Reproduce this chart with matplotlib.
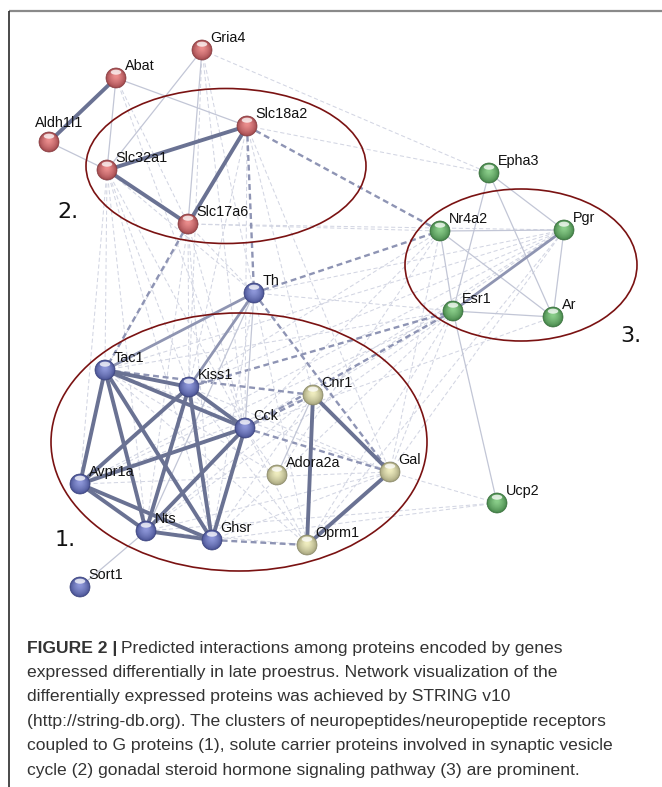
import matplotlib
matplotlib.use("Agg")
import matplotlib.pyplot as plt
from matplotlib.patches import Circle, Ellipse
from matplotlib.colors import to_rgb

# ---- network data -------------------------------------------------------
genes = ["Gria4", "Abat", "Aldh1l1", "Slc18a2", "Slc32a1", "Slc17a6",
         "Epha3", "Nr4a2", "Pgr", "Esr1", "Ar", "Ucp2",
         "Th", "Tac1", "Kiss1", "Cck", "Avpr1a", "Nts", "Ghsr", "Sort1",
         "Cnr1", "Adora2a", "Gal", "Oprm1"]
node_x = [202, 116, 49, 247, 107, 188,
          489, 440, 564, 453, 553, 497,
          254, 105, 189, 245, 80, 146, 212, 80,
          313, 277, 390, 307]
node_y = [50, 78, 142, 126, 170, 224,
          173, 231, 230, 311, 317, 503,
          293, 370, 387, 428, 484, 531, 540, 587,
          395, 475, 472, 545]
node_group = ["red"] * 6 + ["green"] * 6 + ["blue"] * 8 + ["yellow"] * 4

strong_edges = [("Abat", "Aldh1l1"), ("Slc32a1", "Slc18a2"), ("Slc32a1", "Slc17a6"),
                ("Slc18a2", "Slc17a6"),
                ("Tac1", "Kiss1"), ("Tac1", "Cck"), ("Tac1", "Avpr1a"), ("Tac1", "Nts"),
                ("Tac1", "Ghsr"), ("Kiss1", "Cck"), ("Kiss1", "Avpr1a"), ("Kiss1", "Nts"),
                ("Kiss1", "Ghsr"), ("Cck", "Avpr1a"), ("Cck", "Nts"), ("Cck", "Ghsr"),
                ("Avpr1a", "Nts"), ("Avpr1a", "Ghsr"), ("Nts", "Ghsr"),
                ("Cnr1", "Oprm1"), ("Cnr1", "Gal"), ("Gal", "Oprm1")]
medium_edges = [("Esr1", "Pgr"), ("Th", "Tac1"), ("Th", "Kiss1")]
weak_edges = [("Abat", "Slc32a1"), ("Gria4", "Slc17a6"), ("Gria4", "Slc32a1"),
              ("Aldh1l1", "Slc32a1"), ("Abat", "Slc18a2"), ("Th", "Cck"), ("Th", "Nts"),
              ("Nr4a2", "Pgr"), ("Nr4a2", "Esr1"), ("Nr4a2", "Ar"), ("Esr1", "Ar"),
              ("Pgr", "Ar"), ("Epha3", "Esr1"), ("Epha3", "Ar"), ("Epha3", "Pgr"),
              ("Ucp2", "Esr1"), ("Sort1", "Nts"), ("Cnr1", "Adora2a")]
dash_dark = [("Slc18a2", "Nr4a2"), ("Slc18a2", "Th"), ("Th", "Nr4a2"), ("Slc17a6", "Tac1"),
             ("Tac1", "Cnr1"), ("Cck", "Cnr1"), ("Th", "Gal"), ("Kiss1", "Esr1"),
             ("Cck", "Gal"), ("Ghsr", "Oprm1"), ("Cck", "Esr1")]
dash_light = [("Gria4", "Epha3"), ("Slc18a2", "Epha3"), ("Slc17a6", "Nr4a2"),
              ("Slc17a6", "Pgr"), ("Gria4", "Th"), ("Gria4", "Cck"), ("Gria4", "Kiss1"),
              ("Abat", "Slc17a6"), ("Abat", "Cck"),
              ("Slc32a1", "Tac1"), ("Slc32a1", "Kiss1"), ("Slc32a1", "Cck"),
              ("Slc32a1", "Nts"), ("Slc32a1", "Ghsr"), ("Slc32a1", "Th"),
              ("Slc32a1", "Avpr1a"), ("Slc17a6", "Kiss1"), ("Slc17a6", "Cck"),
              ("Slc17a6", "Nts"), ("Slc17a6", "Ghsr"), ("Slc17a6", "Th"),
              ("Slc18a2", "Cck"), ("Slc18a2", "Kiss1"), ("Slc18a2", "Gal"),
              ("Slc18a2", "Cnr1"), ("Slc18a2", "Tac1"),
              ("Tac1", "Esr1"), ("Tac1", "Pgr"), ("Kiss1", "Pgr"), ("Kiss1", "Nr4a2"),
              ("Cck", "Pgr"), ("Cck", "Ar"), ("Cck", "Nr4a2"), ("Gal", "Esr1"),
              ("Gal", "Pgr"), ("Gal", "Nr4a2"), ("Cnr1", "Esr1"), ("Cnr1", "Pgr"),
              ("Oprm1", "Esr1"), ("Ghsr", "Esr1"), ("Nts", "Esr1"), ("Avpr1a", "Esr1"),
              ("Avpr1a", "Pgr"), ("Adora2a", "Nr4a2"), ("Oprm1", "Pgr"),
              ("Ucp2", "Gal"), ("Ucp2", "Ghsr"), ("Ucp2", "Nts"),
              ("Tac1", "Adora2a"), ("Tac1", "Gal"), ("Tac1", "Oprm1"), ("Kiss1", "Gal"),
              ("Kiss1", "Oprm1"), ("Avpr1a", "Cnr1"), ("Avpr1a", "Gal"),
              ("Nts", "Cnr1"), ("Nts", "Oprm1"), ("Nts", "Gal"), ("Ghsr", "Cnr1"),
              ("Ghsr", "Gal"), ("Cck", "Oprm1"), ("Cck", "Adora2a"), ("Th", "Ghsr"),
              ("Th", "Esr1"), ("Th", "Pgr"), ("Th", "Oprm1")]

cluster_labels = ["1.", "2.", "3."]
cluster_cx = [239, 226, 521]
cluster_cy = [442, 166, 265]
cluster_w = [376, 280, 232]
cluster_h = [258, 155, 152]
cluster_label_x = [55, 57, 620]
cluster_label_y = [540, 212, 336]

caption_bold = "FIGURE 2 |"
caption_lines = [
    "Predicted interactions among proteins encoded by genes",
    "expressed differentially in late proestrus. Network visualization of the",
    "differentially expressed proteins was achieved by STRING v10",
    "(http://string-db.org). The clusters of neuropeptides/neuropeptide receptors",
    "coupled to G proteins (1), solute carrier proteins involved in synaptic vesicle",
    "cycle (2) gonadal steroid hormone signaling pathway (3) are prominent.",
]

# ---- styling ------------------------------------------------------------
group_color = {"red": "#e05a5a", "blue": "#5a68c6", "green": "#55b655", "yellow": "#e6e3a2"}
# label placement relative to the node centre (default: upper right)
label_offset = {"Aldh1l1": (-14, -15)}

W, H = 662, 787
fig = plt.figure(figsize=(W / 100, H / 100), dpi=100)
ax = fig.add_axes([0, 0, 1, 1])
ax.set_xlim(0, W)
ax.set_ylim(H, 0)
ax.axis("off")

pos = {g: (x, y) for g, x, y in zip(genes, node_x, node_y)}


def draw_edges(edges, color, lw, dashes=None, z=1):
    for a, b in edges:
        (x1, y1), (x2, y2) = pos[a], pos[b]
        line, = ax.plot([x1, x2], [y1, y2], color=color, lw=lw, zorder=z,
                        solid_capstyle="butt")
        if dashes:
            line.set_dashes(dashes)


draw_edges(dash_light, "#d3d6e3", 0.75, dashes=(4, 2.5), z=1)
draw_edges(dash_dark, "#8e94b4", 1.7, dashes=(2.5, 1.6), z=2)
draw_edges(weak_edges, "#c2c6d6", 0.9, z=2)
draw_edges(medium_edges, "#8f95b2", 2.0, z=3)
draw_edges(strong_edges, "#6a7293", 2.8, z=4)

# cluster outlines
for cx, cy, w, h in zip(cluster_cx, cluster_cy, cluster_w, cluster_h):
    ax.add_patch(Ellipse((cx, cy), w, h, fill=False, ec="#7a1212", lw=1.2, zorder=5))
for lab, lx, ly in zip(cluster_labels, cluster_label_x, cluster_label_y):
    ax.text(lx, ly, lab, fontsize=16, family="DejaVu Sans", color="#111111",
            va="center", ha="left", zorder=6)


def mix(c1, c2, t):
    return tuple(a + (b - a) * t for a, b in zip(c1, c2))


def draw_node(x, y, base, r=10):
    base = to_rgb(base)
    dark = mix(base, (0.15, 0.15, 0.2), 0.35)
    light = mix(base, (1, 1, 1), 0.30)
    n = 12
    for i in range(n):
        t = i / (n - 1)
        rr = r * (1 - 0.8 * t)
        col = mix(dark, light, t ** 0.7)
        ax.add_patch(Circle((x, y - 0.22 * r * t), rr, color=col, lw=0, zorder=7))
    ax.add_patch(Ellipse((x, y - 0.58 * r), 1.05 * r, 0.5 * r, color="white",
                         alpha=0.75, lw=0, zorder=8))
    ax.add_patch(Circle((x, y), r, fill=False, ec=mix(dark, (0, 0, 0), 0.15),
                        lw=0.5, zorder=8))


for g, x, y, grp in zip(genes, node_x, node_y, node_group):
    draw_node(x, y, group_color[grp])
    dx, dy = label_offset.get(g, (8.5, -8))
    ax.text(x + dx, y + dy, g, fontsize=10.4, family="Liberation Sans",
            color="#111111", va="baseline", ha="left", zorder=9)

# panel frame
ax.plot([9, W], [11, 11], color="#8a8a8a", lw=1.6, solid_capstyle="butt", clip_on=False)
ax.plot([9, 9], [11, H], color="#2b2b2b", lw=1.2, solid_capstyle="butt", clip_on=False)

# caption
cap_x = 27
cap_y0 = 648
cap_dy = 24.4
cap_font = dict(fontsize=12.6, family="Liberation Sans", color="#333333", va="center")
tb = ax.text(cap_x, cap_y0, caption_bold, fontweight="bold", ha="left", **cap_font)
fig.canvas.draw()
bb = tb.get_window_extent(fig.canvas.get_renderer())
x_end = ax.transData.inverted().transform((bb.x1, bb.y0))[0]
for i, line in enumerate(caption_lines):
    if i == 0:
        ax.text(x_end + 4, cap_y0, line, ha="left", **cap_font)
    else:
        ax.text(cap_x, cap_y0 + i * cap_dy, line, ha="left", **cap_font)

fig.savefig("out.png", dpi=100)
